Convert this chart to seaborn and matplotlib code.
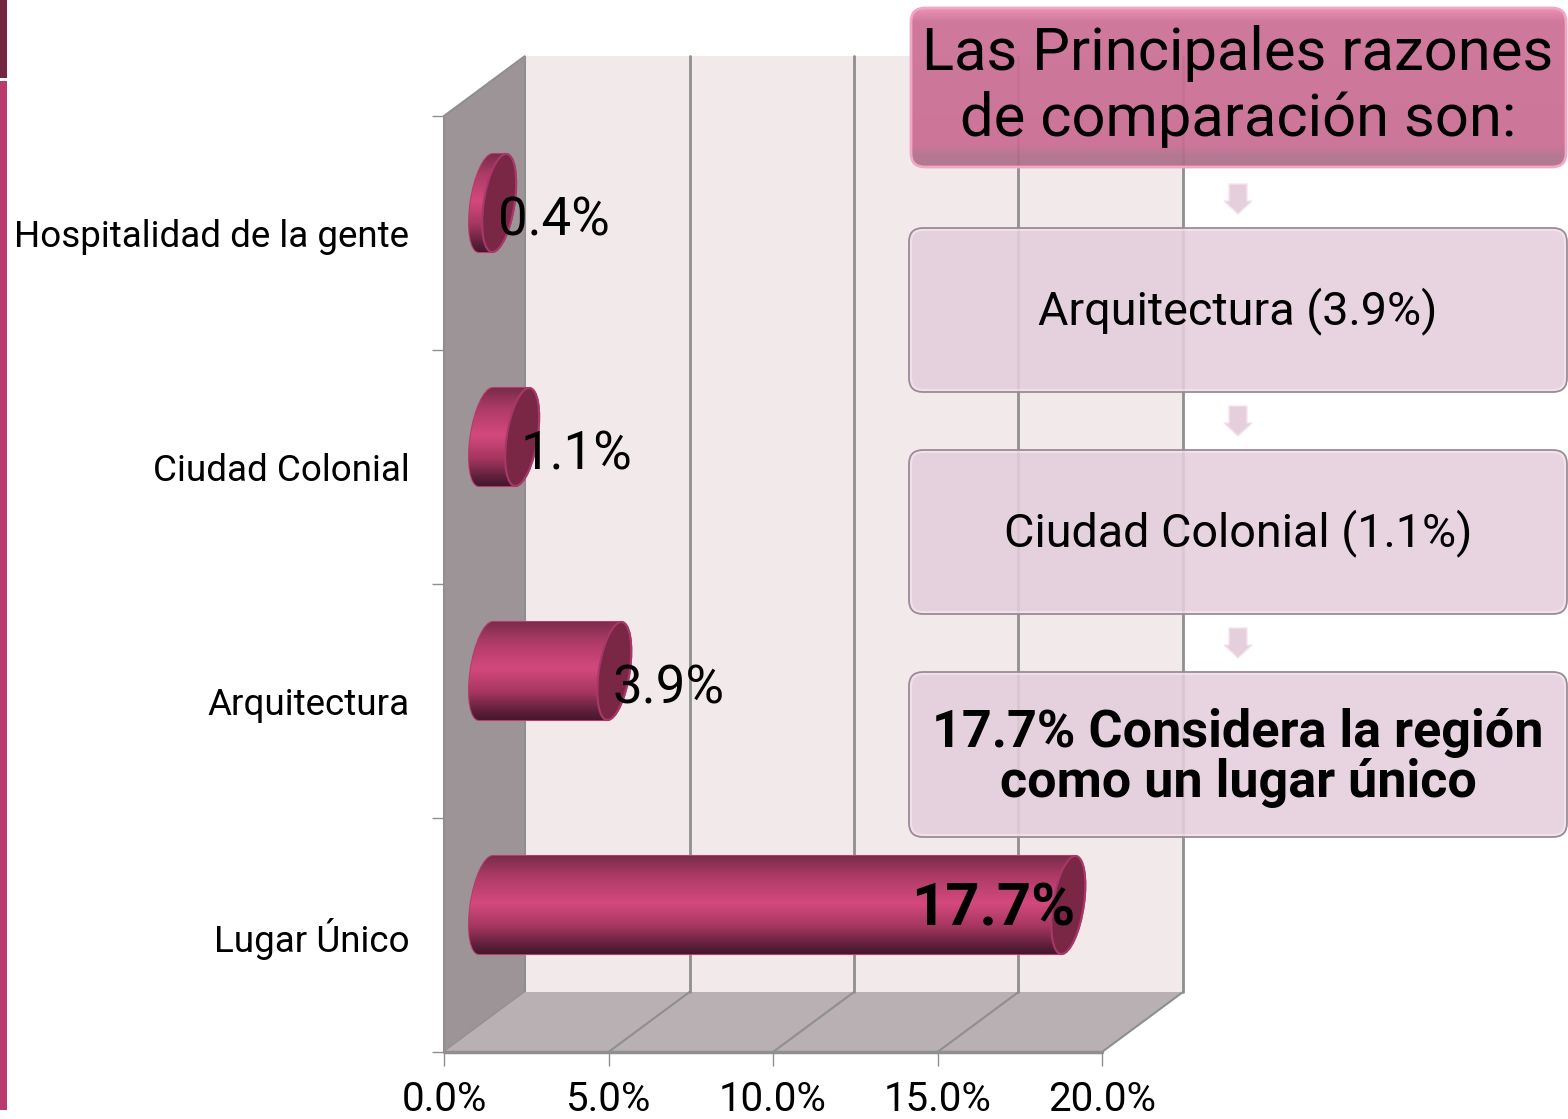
# -*- coding: utf-8 -*-
"""Barras 3D (cilindros) con razones de comparacion + cajas de texto."""
import numpy as np
import pandas as pd
import matplotlib
matplotlib.use("Agg")
import matplotlib.pyplot as plt
from matplotlib.colors import LinearSegmentedColormap
from matplotlib.patches import Ellipse, FancyBboxPatch, PathPatch, Polygon, Rectangle
from matplotlib.path import Path
from matplotlib.transforms import Affine2D
import seaborn as sns

categorias = ["Hospitalidad de la gente", "Ciudad Colonial", "Arquitectura", "Lugar Único"]
valores = [0.4, 1.1, 3.9, 17.7]
etiquetas = ["0.4%", "1.1%", "3.9%", "17.7%"]
xticks = [0, 5, 10, 15, 20]
xticklabels = ["0.0%", "5.0%", "10.0%", "15.0%", "20.0%"]
titulo = "Las Principales razones\nde comparación son:"
cajas = ["Arquitectura (3.9%)", "Ciudad Colonial (1.1%)", "17.7% Considera la región\ncomo un lugar único"]

sns.set_theme(style="white")
plt.rcParams["font.family"] = ["Roboto", "DejaVu Sans"]

W, H = 1568, 1119
fig = plt.figure(figsize=(W / 100, H / 100), dpi=100, facecolor="white")
ax = fig.add_axes([444 / W, 1 - 1052 / H, (1102 - 444) / W, (1052 - 116) / H])

df = pd.DataFrame({"razon": categorias, "valor": valores})
sns.barplot(data=df, y="razon", x="valor", order=categorias, orient="h",
            color="#b93a6b", width=98 / 234, ax=ax, zorder=3, linewidth=0)
ax.set_xlim(0, 20)
ax.set_ylim(3.5, -0.5)
ax.set_xlabel("")
ax.set_ylabel("")
sns.despine(ax=ax, left=True, bottom=True, top=True, right=True)
ax.patch.set_alpha(0)

# profundidad del "3D" en unidades de datos
DX = 81 / (658 / 20)
DY = 60 / 234
GRIS = "#8f8f8f"

ax.add_patch(Polygon([(DX, 3.5 - DY), (20 + DX, 3.5 - DY), (20 + DX, -0.5 - DY), (DX, -0.5 - DY)],
                     fc="#f2e9eb", ec="none", clip_on=False, zorder=0))
ax.add_patch(Polygon([(0, -0.5), (DX, -0.5 - DY), (DX, 3.5 - DY), (0, 3.5)],
                     fc="#9c9496", ec=GRIS, lw=1.5, clip_on=False, zorder=1))
ax.add_patch(Polygon([(0, 3.5), (DX, 3.5 - DY), (20 + DX, 3.5 - DY), (20, 3.5)],
                     fc="#b8b0b2", ec="none", clip_on=False, zorder=1))
ax.plot([0, 20], [3.5, 3.5], color=GRIS, lw=2.5, clip_on=False, zorder=2)
for t in xticks[1:]:
    ax.plot([t + DX, t + DX], [-0.5 - DY, 3.5 - DY], color=GRIS, lw=2, clip_on=False, zorder=1)
    ax.plot([t, t + DX], [3.5, 3.5 - DY], color=GRIS, lw=1.5, clip_on=False, zorder=2)

ax.set_xticks(xticks, xticklabels)
ax.set_yticks(range(4), categorias)
ax.set_yticks(np.arange(-0.5, 4), minor=True)
ax.tick_params(axis="x", bottom=True, length=10, width=1, color=GRIS, pad=10, labelsize=29, labelcolor="black")
ax.tick_params(axis="y", which="major", left=False, length=0, pad=25, labelsize=26.5, labelcolor="black")
ax.tick_params(axis="y", which="minor", left=True, length=9, width=1, color=GRIS)
for lab in ax.get_yticklabels():
    lab.set_va("center_baseline")

# cilindros: cada barra de seaborn se reviste con gradiente y tapa
cmap_bar = LinearSegmentedColormap.from_list("bar", [
    (0.0, "#7c2c4b"), (0.22, "#b03c68"), (0.48, "#d4497d"),
    (0.72, "#a5365f"), (0.92, "#5b1f39"), (1.0, "#47182d")])
grad = np.linspace(0, 1, 200).reshape(-1, 1)
offset = Affine2D().translate(DX / 2 + 1.5 / 32.9, -DY / 2)
RX = 15.5 / (658 / 20)
KAPPA = 0.5523
SHEAR = 1.0

for i, bar in enumerate(ax.containers[0]):
    x1 = valores[i]
    yc = bar.get_y() + bar.get_height() / 2
    ry = bar.get_height() / 2
    trans = offset + ax.transData
    bar.set_transform(Affine2D(np.array([[1, -SHEAR, SHEAR * yc], [0, 1, 0], [0, 0, 1]])) + trans)
    verts = [(0, yc - ry), (x1, yc - ry),
             (x1 + RX * KAPPA, yc - ry), (x1 + RX, yc - ry * KAPPA), (x1 + RX, yc),
             (x1 + RX, yc + ry * KAPPA), (x1 + RX * KAPPA, yc + ry), (x1, yc + ry),
             (0, yc + ry),
             (-RX * KAPPA, yc + ry), (-RX, yc + ry * KAPPA), (-RX, yc),
             (-RX, yc - ry * KAPPA), (-RX * KAPPA, yc - ry), (0, yc - ry), (0, yc - ry)]
    codes = [Path.MOVETO, Path.LINETO, Path.CURVE4, Path.CURVE4, Path.CURVE4,
             Path.CURVE4, Path.CURVE4, Path.CURVE4, Path.LINETO,
             Path.CURVE4, Path.CURVE4, Path.CURVE4, Path.CURVE4, Path.CURVE4, Path.CURVE4,
             Path.CLOSEPOLY]
    verts = [(x - SHEAR * (y - yc), y) for x, y in verts]
    cuerpo = Path(verts, codes)
    ax.add_patch(PathPatch(cuerpo, fc="#b93a6b", ec="#b93a6b", lw=1.5, transform=trans, zorder=4))
    im = ax.imshow(grad, cmap=cmap_bar, aspect="auto", zorder=5, interpolation="bilinear",
                   extent=(-RX - 1, x1 + RX + 1, yc + ry, yc - ry))
    im.set_transform(trans)
    im.set_clip_path(PathPatch(cuerpo, transform=trans))
    # tapa derecha, inclinada
    tapa = Ellipse((0, 0), 2 * RX, 2 * ry, fc="#7a2645", ec="#a8386a", lw=1.5, zorder=6,
                   transform=Affine2D(np.array([[1, -SHEAR, x1], [0, 1, yc], [0, 0, 1]])) + trans)
    ax.add_patch(tapa)
    # etiqueta del valor
    if i == len(valores) - 1:
        ax.text(x1 + DX / 2 + 8 / 32.9, i - 26 / 234, etiquetas[i], ha="right", va="center",
                fontsize=43, fontweight="bold", color="black", zorder=7)
    else:
        ax.text(x1 + DX / 2, i - 12 / 234, etiquetas[i], ha="left", va="center",
                fontsize=38, color="black", zorder=7)

ax.set_xlim(0, 20)
ax.set_ylim(3.5, -0.5)

# capa superior en pixeles: franja lateral, cajas, flechas
top = fig.add_axes([0, 0, 1, 1], zorder=10)
top.set_xlim(0, W)
top.set_ylim(H, 0)
top.axis("off")
top.patch.set_alpha(0)

top.add_patch(Rectangle((0, 0), 7, 78, fc="#74253f", ec="none"))
top.add_patch(Rectangle((0, 81), 7, 1029, fc="#b93a6b", ec="none"))

cmap_tit = LinearSegmentedColormap.from_list("tit", [
    (0.0, "#ea88ad"), (0.08, "#cc7096"), (0.86, "#c96c92"),
    (0.93, "#ae7089"), (1.0, "#ab6f88")])
caja_tit = FancyBboxPatch((911, 8), 655, 159, boxstyle="round,pad=0,rounding_size=14",
                          fc="none", ec="#f3a6c4", lw=2, zorder=4)
top.add_patch(caja_tit)
im_t = top.imshow(grad, cmap=cmap_tit, aspect="auto", alpha=0.93, extent=(910, 1568, 168, 8), zorder=3)
im_t.set_clip_path(caja_tit)
top.set_xlim(0, W)
top.set_ylim(H, 0)
top.text(1238, 87, titulo, ha="center", va="center", fontsize=43, color="black",
         linespacing=1.2, zorder=5)

posiciones = [(227, 393), (449, 615), (671, 838)]
for (y0, y1), txt, k in zip(posiciones, cajas, range(3)):
    top.add_patch(FancyBboxPatch((909, y0 + 1), 658, y1 - y0 - 2,
                                 boxstyle="round,pad=0,rounding_size=14",
                                 fc="#e4cedc", ec="none", alpha=0.88, zorder=3))
    top.add_patch(FancyBboxPatch((909, y0 + 1), 658, y1 - y0 - 2,
                                 boxstyle="round,pad=0,rounding_size=14",
                                 fc="none", ec="#9c8a97", lw=1.3, zorder=4))
    top.add_patch(FancyBboxPatch((911, y0 + 3), 654, y1 - y0 - 6,
                                 boxstyle="round,pad=0,rounding_size=12",
                                 fc="none", ec="white", alpha=0.35, lw=1.5, zorder=4))
    bold = k == 2
    top.text(1238, (y0 + y1) / 2 + 3 if bold else (y0 + y1) / 2 + 1, txt, ha="center", va="center",
             fontsize=37.5 if bold else 33.7, fontweight="bold" if bold else "normal",
             color="black", linespacing=1.0, zorder=5)
    # flecha encima de la caja
    ya = y0 - 43
    top.add_patch(Polygon([(1229, ya), (1247, ya), (1247, ya + 17), (1252, ya + 17),
                           (1238, ya + 30), (1224, ya + 17), (1229, ya + 17)],
                          fc="#e6cfdc", ec="#f3e4ec", lw=1, zorder=3))

fig.savefig("out.png", dpi=100)
